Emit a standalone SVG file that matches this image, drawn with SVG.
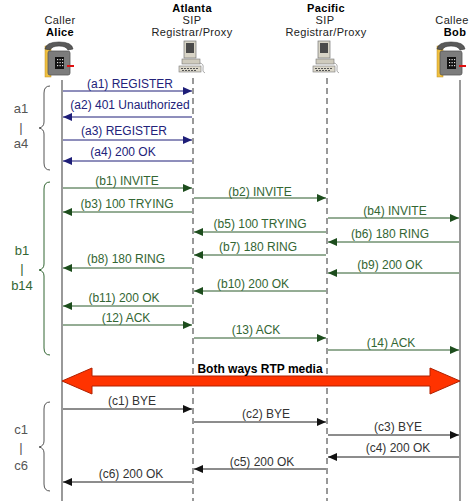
<svg xmlns="http://www.w3.org/2000/svg" width="470" height="501" viewBox="0 0 470 501">
  <style>
    text { font-family: "Liberation Sans", Arial, sans-serif; font-size: 12px; }
    .hdr { fill: #222; text-anchor: middle; font-size: 11px; letter-spacing: 0.35px; }
    .b { font-weight: bold; fill: #000; }
    .lbl { text-anchor: middle; }
    .ta { fill: #22227a; }
    .tb { fill: #336633; }
    .tc { fill: #333; }
    .grp { font-size: 13px; text-anchor: middle; }
    .la { stroke: #1e1e78; stroke-width: 1; fill: none; }
    .lb { stroke: #2a5a2a; stroke-width: 1; fill: none; }
    .lc { stroke: #1a1a1a; stroke-width: 1; fill: none; }
    .ua { stroke: #808080; stroke-width: 1.6; }
    .px { stroke: #333; stroke-width: 1; stroke-dasharray: 6 4; }
    .brace { fill: none; stroke-width: 1; }
  </style>
  <defs>
    <marker id="ha" markerWidth="9" markerHeight="8" refX="9" refY="4" orient="auto" markerUnits="userSpaceOnUse">
      <path d="M0,0 L9,4 L0,8 z" fill="#1e1e78"/>
    </marker>
    <marker id="hb" markerWidth="9" markerHeight="8" refX="9" refY="4" orient="auto" markerUnits="userSpaceOnUse">
      <path d="M0,0 L9,4 L0,8 z" fill="#1d4d1d"/>
    </marker>
    <marker id="hc" markerWidth="9" markerHeight="8" refX="9" refY="4" orient="auto" markerUnits="userSpaceOnUse">
      <path d="M0,0 L9,4 L0,8 z" fill="#111"/>
    </marker>
    <!-- desk telephone -->
    <g id="phone">
      <rect x="45" y="46" width="6" height="31" fill="#f0c040" stroke="#c09020" stroke-width="0.5"/>
      <rect x="48" y="51" width="22" height="24" rx="2" fill="#7c7c7c" stroke="#555" stroke-width="0.8"/>
      <path d="M45,49 Q46,42 59,42 Q72,42 73,49 L68,50 Q66,46 59,46 Q52,46 50,50 z" fill="#5a5a5a" stroke="#333" stroke-width="0.6"/>
      <rect x="55" y="57" width="9" height="12" fill="#111"/>
      <g fill="#ddd">
        <rect x="57" y="59" width="1.2" height="1.2"/><rect x="59.5" y="59" width="1.2" height="1.2"/><rect x="62" y="59" width="1.2" height="1.2"/>
        <rect x="57" y="62" width="1.2" height="1.2"/><rect x="59.5" y="62" width="1.2" height="1.2"/><rect x="62" y="62" width="1.2" height="1.2"/>
        <rect x="57" y="65" width="1.2" height="1.2"/><rect x="59.5" y="65" width="1.2" height="1.2"/><rect x="62" y="65" width="1.2" height="1.2"/>
      </g>
      <line x1="67" y1="66" x2="74" y2="66" stroke="#e01010" stroke-width="2"/>
    </g>
    <!-- desktop computer -->
    <g id="pc">
      <rect x="184" y="41" width="12" height="17" fill="#d8d4c6" stroke="#777" stroke-width="0.7"/>
      <rect x="186" y="43" width="8" height="10" fill="#4a4a4a"/>
      <rect x="182" y="59" width="18" height="5" fill="#cfcbbd" stroke="#777" stroke-width="0.6"/>
      <rect x="179" y="66" width="22" height="6" fill="#dcd8ca" stroke="#777" stroke-width="0.6"/>
      <g fill="#555">
        <rect x="181" y="68" width="2" height="1"/><rect x="184" y="68" width="2" height="1"/><rect x="187" y="68" width="2" height="1"/><rect x="190" y="68" width="2" height="1"/><rect x="193" y="68" width="2" height="1"/><rect x="196" y="68" width="2" height="1"/>
        <rect x="182" y="70" width="2" height="1"/><rect x="185" y="70" width="2" height="1"/><rect x="188" y="70" width="2" height="1"/><rect x="191" y="70" width="2" height="1"/><rect x="194" y="70" width="2" height="1"/>
      </g>
      <path d="M200,63 Q204,64 203,68 Q202,72 205,73" fill="none" stroke="#888" stroke-width="0.7"/>
    </g>
  </defs>

  <rect width="470" height="501" fill="#fff"/>

  <!-- participants -->
  <g id="alice">
    <text class="hdr" x="60" y="24">Caller</text>
    <text class="hdr b" x="60" y="36">Alice</text>
    <use href="#phone"/>
    <line class="ua" x1="62" y1="80" x2="62" y2="501"/>
  </g>
  <g id="atlanta">
    <text class="hdr b" x="192" y="12">Atlanta</text>
    <text class="hdr" x="192" y="24">SIP</text>
    <text class="hdr" x="192" y="36">Registrar/Proxy</text>
    <use href="#pc"/>
    <line class="px" x1="193" y1="78" x2="193" y2="501"/>
  </g>
  <g id="pacific">
    <text class="hdr b" x="326" y="12">Pacific</text>
    <text class="hdr" x="325" y="24">SIP</text>
    <text class="hdr" x="326" y="36">Registrar/Proxy</text>
    <use href="#pc" transform="translate(134,0)"/>
    <line class="px" x1="327" y1="78" x2="327" y2="501"/>
  </g>
  <g id="bob">
    <text class="hdr" x="452" y="24">Callee</text>
    <text class="hdr b" x="455" y="36">Bob</text>
    <use href="#phone" transform="translate(392,0)"/>
    <line class="ua" x1="460" y1="80" x2="460" y2="501"/>
  </g>

  <!-- phase brackets -->
  <g id="phase-a">
    <path class="brace" stroke="#555" d="M50,86 Q44,86 44,93 L44,122 Q44,127 39,128 Q44,129 44,134 L44,163 Q44,170 50,170"/>
    <text class="grp" fill="#555" x="21" y="113">a1</text>
    <text class="grp" fill="#555" x="21" y="132">|</text>
    <text class="grp" fill="#555" x="21" y="148">a4</text>
  </g>
  <g id="phase-b">
    <path class="brace" stroke="#336633" d="M50,182 Q44,182 44,189 L44,264 Q44,269 39,270 Q44,271 44,276 L44,348 Q44,355 50,355"/>
    <text class="grp" fill="#336633" x="22" y="255">b1</text>
    <text class="grp" fill="#336633" x="22" y="273">|</text>
    <text class="grp" fill="#336633" x="22" y="290">b14</text>
  </g>
  <g id="phase-c">
    <path class="brace" stroke="#555" d="M50,402 Q44,402 44,409 L44,441 Q44,446 39,447 Q44,448 44,453 L44,484 Q44,491 50,491"/>
    <text class="grp" fill="#555" x="21" y="434">c1</text>
    <text class="grp" fill="#555" x="21" y="452">|</text>
    <text class="grp" fill="#555" x="21" y="470">c6</text>
  </g>

  <!-- messages -->
  <g id="connectors">
    <!-- registration -->
    <line class="la" x1="63" y1="91" x2="192" y2="91" marker-end="url(#ha)"/>
    <line class="la" x1="192" y1="117" x2="63" y2="117" marker-end="url(#ha)"/>
    <line class="la" x1="63" y1="140" x2="192" y2="140" marker-end="url(#ha)"/>
    <line class="la" x1="192" y1="161" x2="63" y2="161" marker-end="url(#ha)"/>
    <!-- call setup -->
    <line class="lb" x1="63" y1="188" x2="192" y2="188" marker-end="url(#hb)"/>
    <line class="lb" x1="194" y1="198" x2="326" y2="198" marker-end="url(#hb)"/>
    <line class="lb" x1="192" y1="212" x2="63" y2="212" marker-end="url(#hb)"/>
    <line class="lb" x1="328" y1="218" x2="459" y2="218" marker-end="url(#hb)"/>
    <line class="lb" x1="326" y1="232" x2="194" y2="232" marker-end="url(#hb)"/>
    <line class="lb" x1="459" y1="242" x2="328" y2="242" marker-end="url(#hb)"/>
    <line class="lb" x1="326" y1="255" x2="194" y2="255" marker-end="url(#hb)"/>
    <line class="lb" x1="192" y1="268" x2="63" y2="268" marker-end="url(#hb)"/>
    <line class="lb" x1="459" y1="273" x2="328" y2="273" marker-end="url(#hb)"/>
    <line class="lb" x1="326" y1="291" x2="194" y2="291" marker-end="url(#hb)"/>
    <line class="lb" x1="192" y1="306" x2="63" y2="306" marker-end="url(#hb)"/>
    <line class="lb" x1="63" y1="325" x2="192" y2="325" marker-end="url(#hb)"/>
    <line class="lb" x1="194" y1="338" x2="326" y2="338" marker-end="url(#hb)"/>
    <line class="lb" x1="328" y1="350" x2="459" y2="350" marker-end="url(#hb)"/>
    <!-- media -->
    <polygon points="62,381 92,368 92,376 430,376 430,368 460,381 430,394 430,386 92,386 92,394" fill="#ff3300" stroke="#b02000" stroke-width="1"/>
    <!-- teardown -->
    <line class="lc" x1="63" y1="409" x2="192" y2="409" marker-end="url(#hc)"/>
    <line class="lc" x1="194" y1="422" x2="326" y2="422" marker-end="url(#hc)"/>
    <line class="lc" x1="328" y1="435" x2="459" y2="435" marker-end="url(#hc)"/>
    <line class="lc" x1="459" y1="457" x2="328" y2="457" marker-end="url(#hc)"/>
    <line class="lc" x1="326" y1="469" x2="194" y2="469" marker-end="url(#hc)"/>
    <line class="lc" x1="192" y1="482" x2="63" y2="482" marker-end="url(#hc)"/>
  </g>

  <!-- message labels -->
  <g id="labels">
    <text class="lbl ta" x="130" y="88">(a1) REGISTER</text>
    <text class="lbl ta" x="130" y="109">(a2) 401 Unauthorized</text>
    <text class="lbl ta" x="124" y="135">(a3) REGISTER</text>
    <text class="lbl ta" x="123" y="156">(a4) 200 OK</text>

    <text class="lbl tb" x="127" y="185">(b1) INVITE</text>
    <text class="lbl tb" x="260" y="196">(b2) INVITE</text>
    <text class="lbl tb" x="127" y="208">(b3) 100 TRYING</text>
    <text class="lbl tb" x="395" y="215">(b4) INVITE</text>
    <text class="lbl tb" x="260" y="228">(b5) 100 TRYING</text>
    <text class="lbl tb" x="390" y="238">(b6) 180 RING</text>
    <text class="lbl tb" x="258" y="251">(b7) 180 RING</text>
    <text class="lbl tb" x="126" y="263">(b8) 180 RING</text>
    <text class="lbl tb" x="390" y="269">(b9) 200 OK</text>
    <text class="lbl tb" x="253" y="288">(b10) 200 OK</text>
    <text class="lbl tb" x="124" y="302">(b11) 200 OK</text>
    <text class="lbl tb" x="126" y="322">(12) ACK</text>
    <text class="lbl tb" x="256" y="334">(13) ACK</text>
    <text class="lbl tb" x="391" y="347">(14) ACK</text>

    <text class="lbl b" x="260" y="373">Both ways RTP media</text>

    <text class="lbl tc" x="132" y="405">(c1) BYE</text>
    <text class="lbl tc" x="266" y="418">(c2) BYE</text>
    <text class="lbl tc" x="398" y="431">(c3) BYE</text>
    <text class="lbl tc" x="398" y="452">(c4) 200 OK</text>
    <text class="lbl tc" x="262" y="466">(c5) 200 OK</text>
    <text class="lbl tc" x="131" y="478">(c6) 200 OK</text>
  </g>
</svg>
